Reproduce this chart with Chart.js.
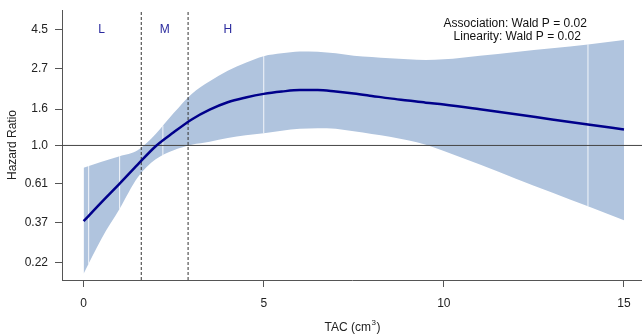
<!DOCTYPE html>
<html><head><meta charset="utf-8">
<script src="https://cdn.jsdelivr.net/npm/chart.js@4/dist/chart.umd.min.js"></script>
<style>html,body{margin:0;padding:0;background:#fff;}</style>
</head><body>
<canvas id="c" width="642" height="336" style="display:block;width:642px;height:336px"></canvas>
<script>
// ---- data ----
const xGrid   = [0, 0.5, 1, 1.5, 2, 2.5, 3, 3.5, 4, 4.5, 5, 5.5, 6, 6.5, 7, 7.5, 8, 8.5, 9, 9.5, 10, 11, 12, 13, 14, 15];
const hrFit   = [0.375, 0.48, 0.61, 0.78, 0.99, 1.185, 1.40, 1.59, 1.75, 1.86, 1.95, 2.01, 2.05, 2.05, 2.01, 1.96, 1.90, 1.84, 1.79, 1.74, 1.70, 1.60, 1.50, 1.40, 1.31, 1.23];
const hrLower = [0.19, 0.30, 0.44, 0.66, 0.835, 0.94, 1.01, 1.05, 1.10, 1.14, 1.17, 1.21, 1.24, 1.25, 1.24, 1.20, 1.16, 1.12, 1.07, 1.01, 0.93, 0.78, 0.65, 0.544, 0.455, 0.38];
const hrUpper = [0.75, 0.81, 0.87, 0.94, 1.16, 1.52, 1.95, 2.30, 2.63, 2.92, 3.18, 3.30, 3.38, 3.37, 3.30, 3.20, 3.14, 3.09, 3.05, 3.02, 3.05, 3.20, 3.36, 3.52, 3.70, 3.92];
const yTicks      = [0.22, 0.37, 0.61, 1.0, 1.6, 2.7, 4.5];
const yTickLabels = ['0.22', '0.37', '0.61', '1.0', '1.6', '2.7', '4.5'];
const xTicks      = [0, 5, 10, 15];
const cutpoints   = [1.6, 2.9];
const groupLabels = ['L', 'M', 'H'];
const groupLabelX = [0.5, 2.25, 4.0];
const seamX       = [0.14, 1.0, 2.2, 5.0, 14.0];
const waldLines   = ['Association: Wald P = 0.02', 'Linearity: Wald P = 0.02'];
const refHR = 1.0;
const X_MIN = -0.6, X_MAX = 15.5, Y_MIN = 0.175, Y_MAX = 5.78;

const FONT = "'Liberation Sans', Arial, sans-serif";

function pts(ys){ return xGrid.map((x,i)=>({x:x, y:ys[i]})); }
function interpLog(arr, x){
  for (let i=0;i<xGrid.length-1;i++){
    if (x>=xGrid[i] && x<=xGrid[i+1]){
      const t=(x-xGrid[i])/(xGrid[i+1]-xGrid[i]);
      return Math.exp(Math.log(arr[i])*(1-t)+Math.log(arr[i+1])*t);
    }
  }
  return arr[arr.length-1];
}

const datasets = [
  {label:'lower', data:pts(hrLower), borderWidth:0, borderColor:'rgba(0,0,0,0)', pointRadius:0, fill:false, cubicInterpolationMode:'monotone', order:10},
  {label:'upper', data:pts(hrUpper), borderWidth:0, borderColor:'rgba(0,0,0,0)', pointRadius:0, fill:'-1', backgroundColor:'#b0c4de', cubicInterpolationMode:'monotone', order:9},
];
seamX.forEach(sx=>{
  datasets.push({label:'seam', data:[{x:sx,y:interpLog(hrLower,sx)},{x:sx,y:interpLog(hrUpper,sx)}], borderColor:'rgba(255,255,255,0.85)', borderWidth:1, pointRadius:0, fill:false, order:8});
});
datasets.push({label:'ref', data:[{x:X_MIN,y:refHR},{x:X_MAX,y:refHR}], borderColor:'#444', borderWidth:1, pointRadius:0, fill:false, order:3});
cutpoints.forEach(c=>{
  datasets.push({label:'cut', data:[{x:c,y:Y_MIN},{x:c,y:Y_MAX}], borderColor:'#333', borderWidth:1, borderDash:[3,2], pointRadius:0, fill:false, order:2});
});
datasets.push({label:'fit', data:pts(hrFit), borderColor:'#00008b', borderWidth:2.5, pointRadius:0, fill:false, cubicInterpolationMode:'monotone', order:0});

const textPlugin = {
  id:'textPlugin',
  afterDatasetsDraw(chart){
    const ctx = chart.ctx, xs = chart.scales.x, ys = chart.scales.y, ca = chart.chartArea;
    ctx.save();
    ctx.font = "12px " + FONT;
    ctx.fillStyle = '#2a2a9e';
    ctx.textAlign = 'center';
    ctx.textBaseline = 'middle';
    groupLabels.forEach((t,i)=>{
      ctx.fillText(t, xs.getPixelForValue(groupLabelX[i]), ys.getPixelForValue(4.5));
    });
    ctx.font = "12px " + FONT;
    ctx.fillStyle = '#111';
    const cx = xs.getPixelForValue(11.98);
    waldLines.forEach((t,i)=>{
      ctx.fillText(t, cx + (i===1?2:0), ca.top + 13.5 + i*13.5);
    });
    // x-axis title with superscript
    const main = 'TAC (cm', sup = '3', close = ')';
    ctx.fillStyle = '#222';
    ctx.textAlign = 'left';
    ctx.textBaseline = 'alphabetic';
    ctx.font = "12px " + FONT;
    const w1 = ctx.measureText(main).width, w3 = ctx.measureText(close).width;
    ctx.font = "8px " + FONT;
    const w2 = ctx.measureText(sup).width;
    const tx = (ca.left + ca.right)/2 - (w1+w2+w3)/2;
    const by = chart.height - 5;
    ctx.font = "12px " + FONT;
    ctx.fillText(main, tx, by);
    ctx.font = "8px " + FONT;
    ctx.fillText(sup, tx + w1 + 0.5, by - 6);
    ctx.font = "12px " + FONT;
    ctx.fillText(close, tx + w1 + w2 + 1, by);
    ctx.restore();
  }
};

new Chart(document.getElementById('c'), {
  type:'line',
  data:{datasets:datasets},
  options:{
    responsive:false, animation:false, devicePixelRatio:1,
    layout:{padding:{top:10,right:0,left:0,bottom:0}},
    plugins:{legend:{display:false}, tooltip:{enabled:false}},
    elements:{line:{tension:0}},
    scales:{
      x:{
        type:'linear', min:X_MIN, max:X_MAX,
        afterBuildTicks:s=>{ s.ticks = xTicks.map(v=>({value:v})); },
        afterFit:s=>{ s.height = 56; s.paddingLeft = 0; s.paddingRight = 0; },
        ticks:{font:{family:FONT,size:12}, color:'#222', padding:9, maxRotation:0, autoSkip:false, callback:v=>String(v)},
        grid:{display:true, drawOnChartArea:false, drawTicks:true, tickLength:7, tickColor:'#555'},
        border:{display:true, color:'#555', width:1},
        title:{display:false}
      },
      y:{
        type:'logarithmic', min:Y_MIN, max:Y_MAX,
        afterBuildTicks:s=>{ s.ticks = yTicks.map(v=>({value:v})); },
        afterFit:s=>{ s.width = 62; s.paddingTop = 0; s.paddingBottom = 0; },
        ticks:{font:{family:FONT,size:12}, color:'#222', padding:7, autoSkip:false,
               callback:(v)=>{ const k=yTicks.indexOf(v); return k>=0?yTickLabels[k]:''; }},
        grid:{display:true, drawOnChartArea:false, drawTicks:true, tickLength:7, tickColor:'#555'},
        border:{display:true, color:'#555', width:1},
        title:{display:true, text:'Hazard Ratio', font:{family:FONT,size:12}, color:'#222', padding:{top:5,bottom:0}}
      }
    }
  },
  plugins:[textPlugin]
});
</script>
</body></html>
